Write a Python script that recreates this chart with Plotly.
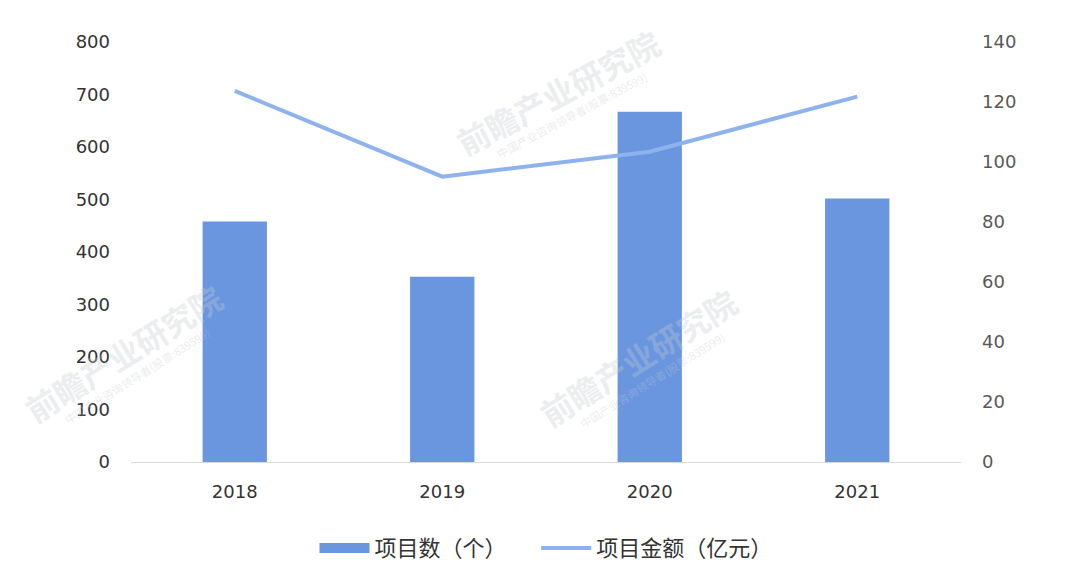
import plotly.graph_objects as go

years = ["2018", "2019", "2020", "2021"]
project_count = [458, 353, 667, 502]
project_amount = [123.7, 95.1, 103.4, 121.8]

tick_font = "DejaVu Sans, Verdana, sans-serif"
cjk_font = "Noto Sans CJK SC, sans-serif"
bar_color = "#6A96E0"
line_color = "#8EB2EE"

fig = go.Figure()

fig.add_trace(go.Bar(
    x=years, y=project_count, name="项目数（个）",
    marker=dict(color=bar_color, line=dict(width=0)),
    width=0.31, yaxis="y", showlegend=False,
))
# legend stand-in for the bar series (wide rectangle key)
fig.add_trace(go.Scatter(
    x=[None], y=[None], name="项目数（个）" + "\u00a0" * 5, mode="lines",
    line=dict(color=bar_color, width=12), yaxis="y",
))
fig.add_trace(go.Scatter(
    x=years, y=project_amount, name="项目金额（亿元）",
    mode="lines", line=dict(color=line_color, width=4),
    yaxis="y2",
))

# faint watermarks (main text + small subtitle)
wm = [(0.514, 0.880, -28), (0.611, 0.250, -32), (-0.010, 0.260, -32)]
for (wx, wy, ang) in wm:
    fig.add_annotation(
        x=wx, y=wy, xref="paper", yref="paper", text="前瞻产业研究院",
        xanchor="center", yanchor="middle",
        showarrow=False, textangle=ang, opacity=0.33,
        font=dict(family=cjk_font, size=32, color="#c4c9d0", weight=700),
    )
    fig.add_annotation(
        x=wx, y=wy, xref="paper", yref="paper",
        text="中国产业咨询领导者(股票:839599)",
        xanchor="center", yanchor="middle", xshift=14, yshift=-23,
        showarrow=False, textangle=ang, opacity=0.33,
        font=dict(family=cjk_font, size=11, color="#c4c9d0"),
    )

fig.update_layout(
    width=1080, height=575,
    margin=dict(l=123, r=127, t=34, b=121),
    plot_bgcolor="white", paper_bgcolor="white",
    font=dict(family=tick_font, size=18, color="#404040"),
    showlegend=True,
    legend=dict(orientation="h", x=0.5, xanchor="center", y=-0.155, yanchor="top",
                font=dict(family=cjk_font, size=22, color="#333333"),
                traceorder="normal", itemwidth=50),
    xaxis=dict(
        showgrid=False, showline=True, linecolor="#d9d9d9", linewidth=1,
        ticks="", ticklabelstandoff=13,
        tickfont=dict(family=tick_font, size=18, color="#333333"),
    ),
    yaxis=dict(
        range=[0, 800], dtick=100, showgrid=False, zeroline=False,
        showline=False, ticks="", ticklabelstandoff=20,
        tickfont=dict(family=tick_font, size=18, color="#333333"),
    ),
    yaxis2=dict(
        range=[0, 140], dtick=20, overlaying="y", side="right",
        showgrid=False, zeroline=False, showline=False, ticklabelstandoff=20,
        tickfont=dict(family=tick_font, size=18, color="#595959"),
    ),
)

fig.write_html("out.html")
